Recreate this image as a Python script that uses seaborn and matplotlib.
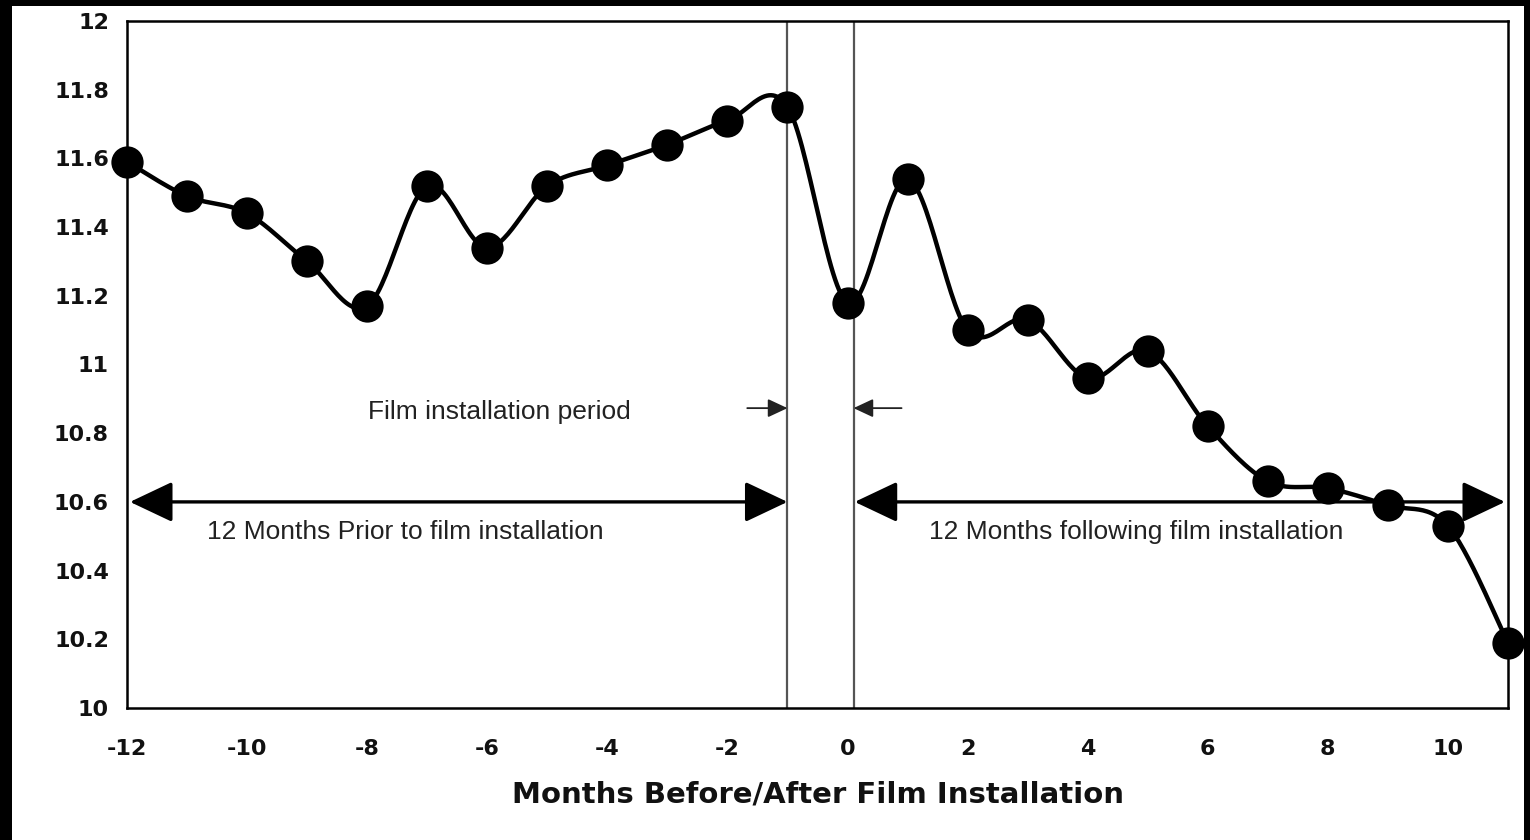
import numpy as np
import pandas as pd
import matplotlib
matplotlib.use("Agg")
import matplotlib.pyplot as plt
import seaborn as sns
from matplotlib.patches import Rectangle

# ---- data ----
months = list(range(-12, 12))
values = [11.59, 11.49, 11.44, 11.30, 11.17, 11.52, 11.34, 11.52, 11.58, 11.64,
          11.71, 11.75, 11.18, 11.54, 11.10, 11.13, 10.96, 11.04, 10.82, 10.66,
          10.64, 10.59, 10.53, 10.19]
x_ticks = list(range(-12, 11, 2))
y_ticks = [10.0, 10.2, 10.4, 10.6, 10.8, 11.0, 11.2, 11.4, 11.6, 11.8, 12.0]
y_tick_labels = ["10", "10.2", "10.4", "10.6", "10.8", "11", "11.2", "11.4",
                 "11.6", "11.8", "12"]
x_label = "Months Before/After Film Installation"
txt_period = "Film installation period"
txt_prior = "12 Months Prior to film installation"
txt_after = "12 Months following film installation"
install_start, install_end = -1.0, 0.1

sns.set_style("white")
plt.rcParams["font.family"] = ["DejaVu Sans"]


def smooth_curve(x, y, n=30):
    """Catmull-Rom (Excel-like) smoothing through the data points."""
    P = np.column_stack([x, y]).astype(float)
    P = np.vstack([P[0], P, P[-1]])
    out = []
    t = np.linspace(0, 1, n)
    for i in range(1, len(P) - 2):
        p0, p1, p2, p3 = P[i - 1], P[i], P[i + 1], P[i + 2]
        c1 = p1 + (p2 - p0) / 6.0
        c2 = p2 - (p3 - p1) / 6.0
        seg = ((1 - t) ** 3)[:, None] * p1 + (3 * (1 - t) ** 2 * t)[:, None] * c1 \
            + (3 * (1 - t) * t ** 2)[:, None] * c2 + (t ** 3)[:, None] * p2
        out.append(seg if i == 1 else seg[1:])
    return np.vstack(out)


W, H = 1530, 840
fig = plt.figure(figsize=(W / 100, H / 100), dpi=100, facecolor="black")
fig.patches.append(Rectangle((12 / W, 0), (1524 - 12) / W, (H - 6) / H,
                             transform=fig.transFigure, facecolor="white",
                             edgecolor="none", zorder=-10))
ax = fig.add_axes([127 / W, 1 - 708 / H, (1508 - 127) / W, (708 - 21) / H])
ax.set_facecolor("white")

curve = smooth_curve(months, values)
df_curve = pd.DataFrame({"x": curve[:, 0], "y": curve[:, 1]})
df_pts = pd.DataFrame({"month": months, "value": values})

sns.lineplot(data=df_curve, x="x", y="y", sort=False, estimator=None,
             color="black", lw=3.2, ax=ax, zorder=3)
sns.scatterplot(data=df_pts, x="month", y="value", s=540, color="black",
                edgecolor="black", linewidth=0, ax=ax, zorder=4, clip_on=False)

# installation period vertical lines
for xv in (install_start, install_end):
    ax.axvline(xv, color="#555555", lw=1.6, zorder=2)

# big double arrows
big = dict(arrowstyle="<|-|>,head_length=1.33,head_width=0.63", mutation_scale=20,
           lw=2.4, color="black", shrinkA=0, shrinkB=0)
ax.annotate("", xy=(install_start, 10.6), xytext=(-11.95, 10.6), arrowprops=big)
ax.annotate("", xy=(install_end + 0.02, 10.6), xytext=(10.95, 10.6), arrowprops=big)

# small arrows
small = dict(arrowstyle="-|>,head_length=0.6,head_width=0.28", mutation_scale=20,
             lw=1.3, color="#222222", shrinkA=0, shrinkB=0)
ax.annotate("", xy=(install_start, 10.873), xytext=(-1.67, 10.873), arrowprops=small)
ax.annotate("", xy=(install_end, 10.873), xytext=(0.9, 10.873), arrowprops=small)

tfont = dict(family=["Liberation Sans", "DejaVu Sans"], fontsize=19, color="#222222")
ax.text(-5.8, 10.862, txt_period, ha="center", va="center", **tfont)
ax.text(-7.37, 10.512, txt_prior, ha="center", va="center", **tfont)
ax.text(4.8, 10.512, txt_after, ha="center", va="center", **tfont)

ax.set_xlim(-12, 11)
ax.set_ylim(10, 12)
ax.set_xticks(x_ticks)
ax.set_xticklabels([str(v) for v in x_ticks])
ax.set_yticks(y_ticks)
ax.set_yticklabels(y_tick_labels)
ax.tick_params(axis="both", which="both", direction="out", length=6, width=1.2,
               colors="black", labelsize=16)
ax.tick_params(axis="x", pad=16)
ax.tick_params(axis="y", pad=7)
for lab in ax.get_xticklabels() + ax.get_yticklabels():
    lab.set_fontweight("bold")
    lab.set_color("#111111")
ax.set_xlabel(x_label, fontsize=21, fontweight="bold", color="#111111", labelpad=16)
ax.set_ylabel("")
for s in ax.spines.values():
    s.set_visible(True)
    s.set_color("black")
    s.set_linewidth(1.8)
ax.grid(False)

fig.savefig("out.png", dpi=100, facecolor=fig.get_facecolor())
